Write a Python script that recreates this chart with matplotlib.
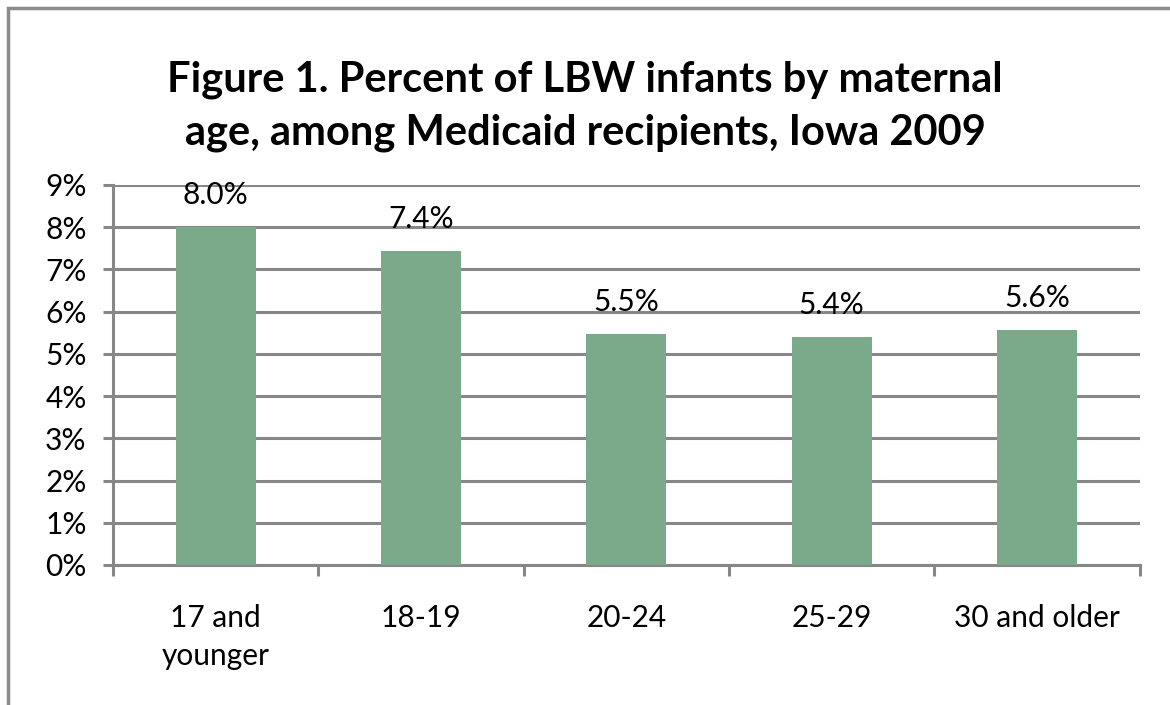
import matplotlib.pyplot as plt
from matplotlib.patches import Rectangle
from matplotlib.ticker import FixedLocator

# Data
age_groups = ["17 and\nyounger", "18-19", "20-24", "25-29", "30 and older"]
lbw_pct = [8.0, 7.43, 5.46, 5.39, 5.57]
y_ticks = [0, 1, 2, 3, 4, 5, 6, 7, 8, 9]

BAR_COLOR = "#7baa8a"
GRID_COLOR = "#878787"

plt.rcParams["font.family"] = ["Lato", "DejaVu Sans"]

fig = plt.figure(figsize=(11.7, 7.05), dpi=100)
ax = fig.add_axes([0.0966, 0.1986, 0.8774, 0.539])

# outer chart border (left and top only visible)
fig.patches.append(Rectangle((8 / 1170, -0.1), 1.2, 0.1 + 1 - 8 / 705,
                             transform=fig.transFigure, fill=False,
                             edgecolor="#8c8c8c", linewidth=2.5))

x = list(range(len(age_groups)))
bars = ax.bar(x, lbw_pct, width=0.39, color=BAR_COLOR, zorder=3)

for bar, val in zip(bars, lbw_pct):
    ax.annotate(f"{val:.1f}%", (bar.get_x() + bar.get_width() / 2, val),
                xytext=(0, 13), textcoords="offset points",
                ha="center", va="bottom", fontsize=21.5, color="black", zorder=4)

ax.set_xlim(-0.5, len(age_groups) - 0.5)
ax.set_ylim(0, 9)
ax.set_yticks(y_ticks)
ax.set_yticklabels([f"{t}%" for t in y_ticks], fontsize=21.5)
ax.set_xticks(x)
ax.set_xticklabels(age_groups, fontsize=21.5, linespacing=1.45)
ax.xaxis.set_minor_locator(FixedLocator([i - 0.5 for i in range(len(age_groups) + 1)]))
ax.tick_params(axis="x", which="major", length=0, pad=28)
ax.tick_params(axis="x", which="minor", length=8, width=2.2, color=GRID_COLOR)
ax.tick_params(axis="y", length=7, width=2.2, color=GRID_COLOR, pad=12)

ax.grid(axis="y", color=GRID_COLOR, linewidth=2.2, zorder=0)
for side in ["top", "right"]:
    ax.spines[side].set_visible(False)
for side in ["left", "bottom"]:
    ax.spines[side].set_color(GRID_COLOR)
    ax.spines[side].set_linewidth(2.2)

fig.text(0.5, 0.849, "Figure 1. Percent of LBW infants by maternal\nage, among Medicaid recipients, Iowa 2009",
         ha="center", va="center", fontsize=30, fontweight="bold", linespacing=1.45)

fig.savefig("out.png", dpi=100)
